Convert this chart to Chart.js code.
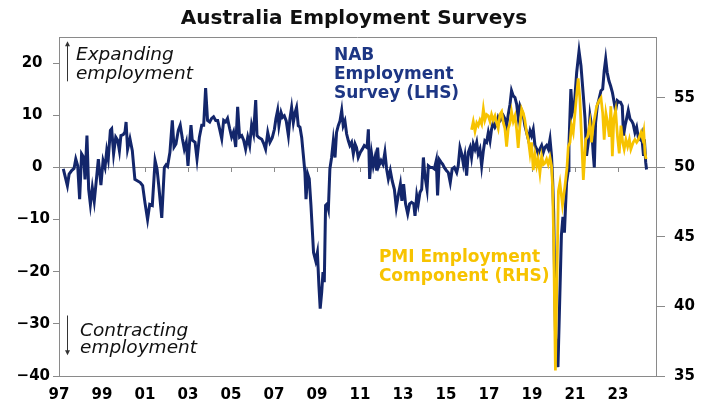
<!DOCTYPE html>
<html>
<head>
  <title>Australia Employment Surveys</title>
  <script src="https://cdn.jsdelivr.net/npm/chart.js"></script>
  <style>
    html, body { margin: 0; padding: 0; background: #fff; }
    #wrap { width: 708px; height: 401px; }
  </style>
</head>
<body>
<div id="wrap"><canvas id="employmentChart"></canvas></div>

<script>
  // tick labels on the date axis (odd years, shown as two digits)
  const yearTicks = [1997, 1999, 2001, 2003, 2005, 2007, 2009, 2011, 2013, 2015, 2017, 2019, 2021, 2023];

  // NAB employment index (LHS), dates as decimal years
  const nabDates = [
    1997.20, 1997.39, 1997.47, 1997.59, 1997.70, 1997.78, 1997.87, 1997.96,
    1998.05, 1998.15, 1998.21, 1998.30, 1998.38, 1998.46, 1998.55, 1998.64, 1998.74, 1998.83, 1998.95,
    1999.05, 1999.14, 1999.22, 1999.29, 1999.39, 1999.45, 1999.54, 1999.64, 1999.73, 1999.81, 1999.88, 1999.99,
    2000.07, 2000.12, 2000.19, 2000.30, 2000.41, 2000.53, 2000.66, 2000.78, 2000.89,
    2001.00, 2001.12, 2001.22, 2001.34, 2001.47, 2001.56, 2001.65, 2001.78, 2001.90, 2001.98,
    2002.05, 2002.16, 2002.27, 2002.35, 2002.44, 2002.55, 2002.64, 2002.74, 2002.83, 2002.92,
    2003.00, 2003.08, 2003.14, 2003.20, 2003.33, 2003.42, 2003.53, 2003.64, 2003.73, 2003.82, 2003.91,
    2004.01, 2004.10, 2004.19, 2004.29, 2004.38, 2004.47, 2004.57, 2004.66, 2004.75, 2004.84, 2004.94,
    2005.03, 2005.12, 2005.22, 2005.31, 2005.40, 2005.50, 2005.59, 2005.68, 2005.78, 2005.87, 2005.96,
    2006.05, 2006.15, 2006.21, 2006.30, 2006.43, 2006.53, 2006.61, 2006.71, 2006.81, 2006.92,
    2007.02, 2007.09, 2007.17, 2007.23, 2007.33, 2007.40, 2007.48, 2007.57, 2007.67, 2007.74, 2007.82, 2007.90, 2007.98,
    2008.05, 2008.13, 2008.21, 2008.29, 2008.36, 2008.44, 2008.49, 2008.57, 2008.64, 2008.72, 2008.78, 2008.84, 2008.94,
    2009.02, 2009.09, 2009.15, 2009.22, 2009.28, 2009.34, 2009.40, 2009.47, 2009.53, 2009.60, 2009.68, 2009.76, 2009.84, 2009.91, 2009.99,
    2010.07, 2010.15, 2010.22, 2010.30, 2010.38, 2010.46, 2010.53, 2010.61, 2010.69, 2010.77, 2010.84, 2010.92,
    2011.02, 2011.11, 2011.20, 2011.33, 2011.39, 2011.45, 2011.54, 2011.62, 2011.70, 2011.78, 2011.82, 2011.88, 2011.98,
    2012.07, 2012.16, 2012.24, 2012.32, 2012.41, 2012.50, 2012.60, 2012.69, 2012.78, 2012.88, 2012.95,
    2013.03, 2013.12, 2013.22, 2013.31, 2013.40, 2013.50, 2013.56, 2013.64, 2013.71, 2013.79, 2013.87, 2013.95,
    2014.02, 2014.12, 2014.18, 2014.27, 2014.36, 2014.46, 2014.55, 2014.61, 2014.69, 2014.77, 2014.85, 2014.92,
    2015.02, 2015.11, 2015.20, 2015.29, 2015.39, 2015.50, 2015.57, 2015.65, 2015.73, 2015.81, 2015.88, 2015.96,
    2016.04, 2016.12, 2016.19, 2016.27, 2016.35, 2016.43, 2016.50, 2016.58, 2016.66, 2016.74, 2016.81, 2016.89, 2016.97,
    2017.05, 2017.12, 2017.20, 2017.28, 2017.36, 2017.43, 2017.51, 2017.59, 2017.67, 2017.74, 2017.82, 2017.90, 2017.98,
    2018.05, 2018.13, 2018.21, 2018.29, 2018.36, 2018.44, 2018.52, 2018.60, 2018.67, 2018.75, 2018.83, 2018.91, 2018.98,
    2019.06, 2019.14, 2019.22, 2019.29, 2019.37, 2019.45, 2019.53, 2019.60, 2019.68, 2019.76, 2019.84, 2019.91, 2019.96,
    2020.01, 2020.05, 2020.10, 2020.21, 2020.37, 2020.44, 2020.51, 2020.61, 2020.69, 2020.72, 2020.81, 2020.88, 2020.97,
    2021.08, 2021.19, 2021.28, 2021.39, 2021.47, 2021.54, 2021.62, 2021.70, 2021.77, 2021.85, 2021.90, 2021.96,
    2022.04, 2022.12, 2022.21, 2022.29, 2022.36, 2022.43, 2022.50, 2022.58, 2022.66, 2022.74, 2022.81, 2022.89, 2022.97,
    2023.05, 2023.12, 2023.20, 2023.26, 2023.33, 2023.40, 2023.48, 2023.56, 2023.64, 2023.71, 2023.79, 2023.87, 2023.95,
    2024.02, 2024.10, 2024.19, 2024.23, 2024.29, 2024.33
  ];
  const nabValues = [
    -0.3, -3.5, -1.3, -0.6, -0.2, 1.6, 0.3, -6.1,
    2.6, 1.9, -2.3, 6.1, -4.2, -7.1, -3.9, -6.5, -2.3, 1.6, -3.4,
    1.3, 0, 3.2, 1.6, 7.1, 7.4, 2.6, 5.8, 5.2, 3.2, 6.1, 6.3,
    6.8, 8.7, 3.5, 5.5, 3.2, -2.3, -2.6, -2.9, -3.5,
    -6.8, -10, -7.1, -7.3, 1.3, -0.3, -3.9, -9.7, 0, 0.5,
    0.2, 2.9, 9.0, 3.9, 4.5, 7.1, 8.1, 5.5, 3.5, 4.8,
    0.3, 5.2, 8.1, 5.2, 4.8, 1.6, 5.8, 8.1, 8.1, 15.2, 9.0,
    8.7, 9.4, 9.7, 9.0, 9.0, 7.4, 5.5, 9.0, 8.7, 9.4, 7.4,
    5.8, 6.8, 3.9, 11.6, 5.8, 6.1, 5.2, 3.5, 5.8, 4.2, 8.1,
    6.5, 12.9, 6.1, 5.7, 5.4, 4.5, 3.5, 6.7, 4.8, 5.7,
    7.3, 9.3, 10.9, 8.0, 10.5, 9.6, 9.9, 8.9, 6.1, 9.3, 11.5, 8.6, 10.5,
    11.5, 8.0, 7.7, 5.7, 2.6, -1.0, -6.1, -1.3, -2.2, -7.3, -11.8, -16.3, -17.9,
    -16.3, -22.7, -27.1, -23.9, -20.1, -22.0, -7.3, -7.0, -8.0, -0.3, 1.9, 5.1, 1.9, 6.7, 8.0,
    8.9, 10.9, 8.0, 8.9, 6.4, 5.1, 4.2, 4.8, 2.6, 4.5, 3.8, 1.9,
    2.9, 3.5, 4.2, 3.8, 7.3, -2.2, 2.6, 0.3, 1.9, -0.6, 3.8, 0.3, 1.3,
    0.6, 2.9, -0.3, -2.2, -0.6, -2.6, -4.2, -7.7, -5.4, -3.2, -6.4,
    -3.2, -7.0, -8.9, -7.0, -6.7, -7.0, -9.3, -5.4, -7.0, -4.8, -4.2, 1.9,
    -1.6, -4.2, 0.3, 0, 0, -0.3, 1.3, -5.4, 1.5, 1.0, 0.6, 0,
    -0.6, -1.0, -2.9, -0.3, 0, -1.0, 0.3, 3.8, 2.6, 0.6, 2.2, -1.6,
    2.9, 3.8, 1.9, 4.5, 3.5, 4.8, 2.6, 3.5, 0.3, 3.2, 5.1, 4.8, 6.7,
    5.1, 7.3, 8.6, 7.7, 8.3, 9.6, 8.9, 9.3, 9.9, 9.3, 8.0, 10.2, 12.1,
    14.7, 13.7, 13.4, 12.1, 9.6, 11.8, 10.9, 9.9, 8.0, 6.7, 5.4, 7.0, 6.1,
    7.3, 4.2, 3.5, 2.6, 3.5, 4.2, 2.9, 3.8, 4.2, 3.5, 5.4, 2.2, -2.2,
    -8.6, -20.1, -32.9, -38.3, -13.0, -9.5, -12.5, -2.9, -0.6, 4.2, 15.0, 10.5, 11.8,
    18.2, 22.3, 19.5, 13.7, 9.3, 2.2, 4.8, 9.9, 8.0, 2.6, 0, 8.6,
    11.8, 13.1, 14.7, 15.0, 18.5, 20.8, 18.2, 16.6, 15.6, 14.4, 12.8, 10.9, 12.8,
    12.5, 12.5, 11.8, 6.1, 8.0, 9.3, 10.9, 9.3, 8.9, 8.3, 6.7, 7.7, 5.7,
    5.4, 6.4, 2.2, 5.4, 1.0, -0.4
  ];

  // PMI employment component (RHS)
  const pmiDates = [
    2016.19, 2016.27, 2016.35, 2016.43, 2016.50, 2016.58, 2016.66, 2016.74, 2016.81, 2016.89, 2016.97,
    2017.05, 2017.12, 2017.20, 2017.28, 2017.36, 2017.43, 2017.51, 2017.59, 2017.67, 2017.74, 2017.82, 2017.90, 2017.98,
    2018.05, 2018.13, 2018.21, 2018.29, 2018.36, 2018.44, 2018.52, 2018.60, 2018.67, 2018.75, 2018.83, 2018.91, 2018.98,
    2019.06, 2019.14, 2019.22, 2019.29, 2019.37, 2019.45, 2019.53, 2019.60, 2019.68, 2019.76, 2019.84, 2019.91, 2019.96,
    2020.01, 2020.05, 2020.09, 2020.23, 2020.30, 2020.42, 2020.53, 2020.63, 2020.69, 2020.77, 2020.84, 2020.92,
    2021.03, 2021.15, 2021.23, 2021.31, 2021.39, 2021.50, 2021.59, 2021.70, 2021.77, 2021.85, 2021.93,
    2022.01, 2022.12, 2022.21, 2022.29, 2022.36, 2022.44, 2022.52, 2022.60, 2022.67, 2022.74, 2022.81, 2022.89, 2022.98,
    2023.06, 2023.14, 2023.22, 2023.29, 2023.37, 2023.45, 2023.53, 2023.60, 2023.71, 2023.79, 2023.87, 2023.95,
    2024.07, 2024.14, 2024.20, 2024.26, 2024.31
  ];
  const pmiValues = [
    52.7, 53.3, 52.6, 53.2, 53.0, 53.4, 53.1, 54.2, 53.4, 53.8, 53.7,
    53.3, 53.8, 53.4, 53.7, 53.2, 52.8, 53.8, 54.0, 53.2, 52.8, 51.5, 52.8, 53.2,
    54.0, 53.3, 53.7, 52.7, 51.4, 53.0, 54.2, 53.9, 53.4, 52.5, 52.0, 51.0, 51.8,
    49.8, 50.9, 50.1, 50.6, 49.6, 50.8, 50.2, 50.3, 50.6, 50.2, 50.7, 50.1, 48.6,
    44.8, 40.0, 35.4, 48.3, 48.9, 47.3, 48.6, 50.0, 51.5, 51.8, 53.0, 52.5,
    54.4, 56.4, 54.9, 52.0, 49.1, 52.0, 52.2, 53.2, 51.8, 53.0, 53.7,
    54.4, 54.8, 55.0, 53.9, 52.0, 53.9, 53.2, 52.2, 54.4, 50.8, 53.5, 54.1, 52.2,
    51.0, 53.0, 51.8, 51.3, 52.0, 51.5, 52.0, 51.3, 51.8, 52.0, 51.8, 52.0,
    52.5, 52.1, 52.6, 51.0, 50.6
  ];

  const NAB_COLOR = '#13266b';
  const NAB_TEXT = '#1d3684';
  const PMI_COLOR = '#f7c300';
  const AXIS_GREY = '#8a8a8a';

  Chart.defaults.font.family = '"DejaVu Sans", sans-serif';
  Chart.defaults.color = '#000';

  // box top edge, zero line with its year ticks
  const framePlugin = {
    id: 'frame',
    beforeDatasetsDraw(chart) {
      const { ctx, chartArea: a, scales: { x, yLeft } } = chart;
      const y0 = yLeft.getPixelForValue(0);
      ctx.save();
      ctx.strokeStyle = AXIS_GREY;
      ctx.lineWidth = 1;
      ctx.beginPath();
      ctx.moveTo(a.left, a.top + 0.5);
      ctx.lineTo(a.right, a.top + 0.5);
      ctx.moveTo(a.left, Math.round(y0) + 0.5);
      ctx.lineTo(a.right, Math.round(y0) + 0.5);
      yearTicks.slice(1).forEach(yr => {
        const xp = Math.round(x.getPixelForValue(yr)) + 0.5;
        ctx.moveTo(xp, Math.round(y0));
        ctx.lineTo(xp, Math.round(y0) + 5);
      });
      ctx.stroke();
      ctx.restore();
    }
  };

  // series names and the expanding / contracting notes
  const notesPlugin = {
    id: 'notes',
    beforeDatasetsDraw(chart) {
      const { ctx, scales: { x, yLeft } } = chart;
      const px = v => x.getPixelForValue(v);
      const py = v => yLeft.getPixelForValue(v);
      ctx.save();
      ctx.textAlign = 'left';
      ctx.textBaseline = 'alphabetic';

      ctx.fillStyle = '#111';
      ctx.font = 'italic 18.5px "DejaVu Sans"';
      ctx.fillText('Expanding', px(1997.79), py(20.6));
      ctx.fillText('employment', px(1997.79), py(16.9));
      ctx.fillText('Contracting', px(1997.98), py(-32.3));
      ctx.fillText('employment', px(1997.98), py(-35.6));

      ctx.font = 'bold 17px "DejaVu Sans"';
      ctx.fillStyle = NAB_TEXT;
      ['NAB', 'Employment', 'Survey (LHS)'].forEach((t, i) => {
        ctx.fillText(t, px(2009.79), py(20.6 - i * 3.65));
      });
      ctx.fillStyle = PMI_COLOR;
      ['PMI Employment', 'Component (RHS)'].forEach((t, i) => {
        ctx.fillText(t, px(2011.88), py(-18.1 - i * 3.65));
      });

      // arrows
      const ax = Math.round(px(1997.37)) + 0.5;
      ctx.strokeStyle = '#333';
      ctx.fillStyle = '#333';
      ctx.lineWidth = 1;
      const arrow = (from, to) => {
        const y1 = py(from), y2 = py(to);
        const dir = y2 < y1 ? -1 : 1;
        ctx.beginPath();
        ctx.moveTo(ax, y1);
        ctx.lineTo(ax, y2 - dir * 3);
        ctx.stroke();
        ctx.beginPath();
        ctx.moveTo(ax, y2);
        ctx.lineTo(ax - 2.5, y2 - dir * 5);
        ctx.lineTo(ax + 2.5, y2 - dir * 5);
        ctx.closePath();
        ctx.fill();
      };
      arrow(16.5, 24.2);
      arrow(-28.4, -36.0);
      ctx.restore();
    }
  };

  const ctx = document.getElementById('employmentChart').getContext('2d');

  const employmentChart = new Chart(ctx, {
    type: 'line',
    data: {
      datasets: [{
        label: 'PMI Employment Component (RHS)',
        data: pmiDates.map((d, i) => ({ x: d, y: pmiValues[i] })),
        yAxisID: 'yRight',
        borderColor: PMI_COLOR,
        borderWidth: 2.75,
        pointRadius: 0,
        tension: 0,
        fill: false,
        order: 0
      }, {
        label: 'NAB Employment Survey (LHS)',
        data: nabDates.map((d, i) => ({ x: d, y: nabValues[i] })),
        yAxisID: 'yLeft',
        borderColor: NAB_COLOR,
        borderWidth: 3,
        pointRadius: 0,
        tension: 0,
        fill: false,
        order: 1
      }]
    },
    options: {
      responsive: true,
      maintainAspectRatio: false,
      animation: false,
      layout: { padding: 0 },
      plugins: {
        legend: { display: false },
        tooltip: { enabled: false },
        title: {
          display: true,
          text: 'Australia Employment Surveys',
          color: '#111',
          font: { size: 20, weight: 'bold' },
          padding: { top: 6.6, bottom: 6.4 }
        }
      },
      scales: {
        x: {
          type: 'linear',
          min: 1997,
          max: 2024.77,
          afterBuildTicks: s => { s.ticks = yearTicks.map(v => ({ value: v })); },
          afterFit: s => { s.height = 25; },
          grid: { display: false, drawTicks: false },
          border: { display: true, color: AXIS_GREY },
          ticks: {
            autoSkip: false,
            maxRotation: 0,
            padding: 10,
            font: { size: 15, weight: 'bold' },
            callback: v => String(Math.round(v) % 100).padStart(2, '0')
          }
        },
        yLeft: {
          position: 'left',
          min: -40,
          max: 25,
          afterFit: s => { s.width = 59; },
          grid: { drawOnChartArea: false, drawTicks: true, tickLength: 6, color: AXIS_GREY },
          border: { display: true, color: AXIS_GREY },
          ticks: {
            stepSize: 10,
            includeBounds: false,
            padding: 3,
            font: { size: 15, weight: 'bold' },
            callback: v => (v < 0 ? '\u2212' + Math.abs(v) : v + '\u2002')
          }
        },
        yRight: {
          position: 'right',
          min: 35,
          max: 59.375,
          afterFit: s => { s.width = 52; },
          grid: { drawOnChartArea: false, drawTicks: true, tickLength: 9, color: AXIS_GREY },
          border: { display: true, color: AXIS_GREY },
          ticks: {
            stepSize: 5,
            includeBounds: false,
            padding: 9,
            font: { size: 15, weight: 'bold' }
          }
        }
      }
    },
    plugins: [framePlugin, notesPlugin]
  });
</script>

</body>
</html>
